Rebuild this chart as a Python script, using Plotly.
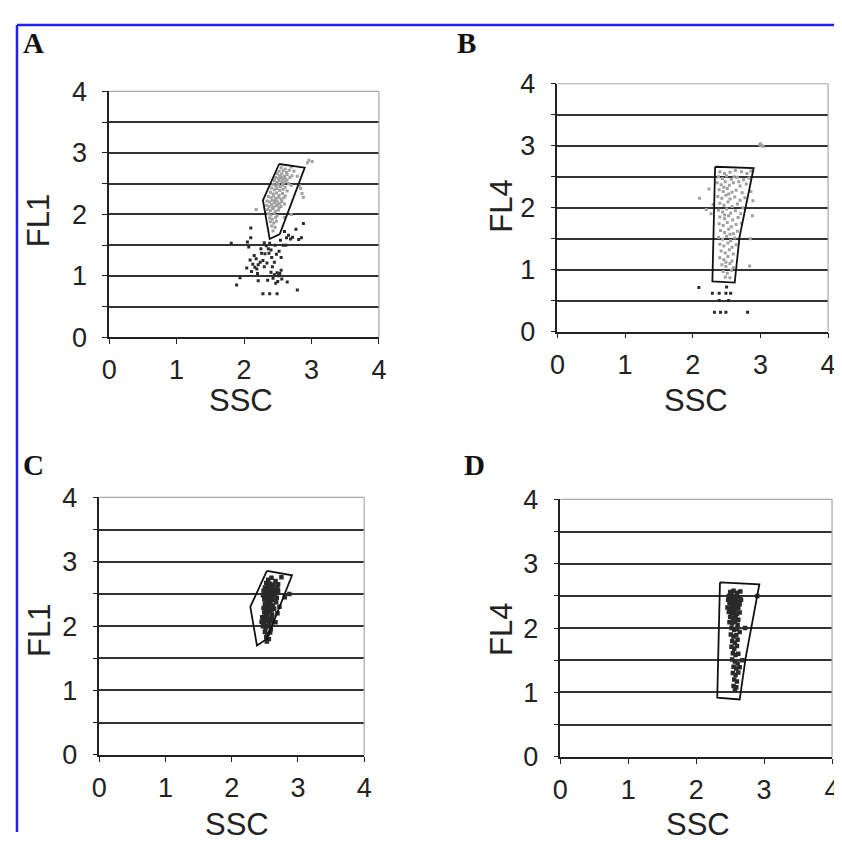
import plotly.graph_objects as go

# The page body keeps its default 8 px margin, so the figure is sized to fill the rest of the window.
OFF = 8
W, H = 842 - OFF, 855 - 2 * OFF

# ---------------- data ----------------
tick_vals = [0, 1, 2, 3, 4]
tick_text = ["0", "1", "2", "3", "4"]
minor_vals = [0.5, 1.5, 2.5, 3.5]
panel_letters = ["A", "B", "C", "D"]
x_titles = ["SSC", "SSC", "SSC", "SSC"]
y_titles = ["FL1", "FL4", "FL1", "FL4"]

# gates (SSC, FL)
gate_a = [(2.52, 2.82), (2.90, 2.76), (2.53, 1.68), (2.38, 1.60), (2.28, 2.23)]
gate_b = [(2.33, 2.66), (2.90, 2.64), (2.69, 1.52), (2.62, 0.79), (2.29, 0.81)]
gate_c = [(2.53, 2.86), (2.91, 2.79), (2.53, 1.80), (2.38, 1.70), (2.28, 2.30)]
gate_d = [(2.35, 2.71), (2.93, 2.68), (2.73, 1.55), (2.64, 0.89), (2.31, 0.92)]

a_gray = [
    (2.55, 2.76), (2.61, 2.74), (2.70, 2.77), (2.52, 2.70), (2.58, 2.71), (2.63, 2.68), (2.67, 2.72), (2.74, 2.70),
    (2.49, 2.66), (2.53, 2.63), (2.56, 2.66), (2.60, 2.62), (2.64, 2.65), (2.71, 2.63), (2.47, 2.60), (2.51, 2.58),
    (2.55, 2.60), (2.58, 2.57), (2.61, 2.59), (2.64, 2.56), (2.68, 2.60), (2.79, 2.62), (2.45, 2.55), (2.49, 2.52),
    (2.52, 2.55), (2.56, 2.53), (2.59, 2.51), (2.62, 2.54), (2.66, 2.50), (2.43, 2.49), (2.47, 2.46), (2.51, 2.48),
    (2.54, 2.45), (2.57, 2.48), (2.61, 2.44), (2.70, 2.47), (2.41, 2.43), (2.45, 2.40), (2.49, 2.42), (2.53, 2.39),
    (2.58, 2.41), (2.64, 2.38), (2.39, 2.36), (2.43, 2.33), (2.48, 2.35), (2.52, 2.31), (2.57, 2.34), (2.61, 2.30),
    (2.36, 2.29), (2.40, 2.27), (2.44, 2.30), (2.47, 2.26), (2.51, 2.28), (2.55, 2.25), (2.59, 2.27), (2.34, 2.22),
    (2.38, 2.20), (2.42, 2.23), (2.45, 2.19), (2.49, 2.22), (2.53, 2.18), (2.56, 2.21), (2.60, 2.17), (2.33, 2.15),
    (2.37, 2.13), (2.41, 2.16), (2.44, 2.12), (2.48, 2.14), (2.52, 2.11), (2.55, 2.13), (2.35, 2.08), (2.39, 2.06),
    (2.43, 2.09), (2.47, 2.05), (2.51, 2.07), (2.36, 2.01), (2.40, 1.99), (2.45, 2.02), (2.49, 1.98), (2.38, 1.94),
    (2.42, 1.92), (2.47, 1.95), (2.39, 1.88), (2.44, 1.86), (2.48, 1.89), (2.41, 1.81), (2.46, 1.79), (2.43, 1.73),
    (2.54, 2.62), (2.50, 2.50), (2.57, 2.58), (2.46, 2.21), (2.50, 2.16), (2.42, 2.11),
    (2.84, 2.42), (2.86, 2.34), (2.88, 2.28), (2.82, 2.47), (2.96, 2.88), (3.01, 2.86), (2.94, 2.84),
    (2.18, 2.08), (2.60, 1.95), (2.70, 2.00),
]
a_dark = [
    (1.81, 1.53), (1.89, 0.85), (1.94, 0.97), (2.05, 1.55), (2.07, 1.47), (2.10, 1.62), (2.10, 1.78), (2.04, 1.13),
    (2.09, 1.26), (2.11, 1.07), (2.13, 1.19), (2.15, 1.33), (2.16, 1.14), (2.19, 1.11), (2.21, 1.18), (2.20, 1.04),
    (2.21, 0.92), (2.25, 1.44), (2.26, 1.37), (2.28, 1.25), (2.30, 1.54), (2.31, 1.36), (2.33, 1.49), (2.34, 1.21),
    (2.35, 0.93), (2.36, 1.44), (2.37, 1.37), (2.38, 1.53), (2.40, 1.42), (2.41, 1.30), (2.42, 1.15), (2.43, 0.96),
    (2.45, 1.22), (2.45, 1.02), (2.46, 1.50), (2.47, 0.88), (2.48, 1.35), (2.49, 1.05), (2.50, 0.91), (2.51, 1.00),
    (2.52, 1.40), (2.53, 1.04), (2.54, 1.58), (2.55, 1.30), (2.55, 1.09), (2.56, 0.95), (2.58, 1.50), (2.60, 1.72),
    (2.62, 1.50), (2.63, 1.62), (2.64, 0.90), (2.66, 1.66), (2.69, 1.60), (2.72, 1.63), (2.77, 1.76), (2.81, 1.59),
    (2.85, 1.62), (2.88, 1.85), (2.28, 0.71), (2.38, 0.71), (2.49, 0.71), (2.79, 0.77), (2.30, 1.15), (2.18, 1.28),
    (2.24, 1.22), (2.40, 1.06),
]

b_gray = [
    (2.40, 2.58), (2.47, 2.55), (2.55, 2.57), (2.63, 2.60), (2.72, 2.58), (2.80, 2.55), (2.86, 2.59),
    (2.38, 2.50), (2.44, 2.47), (2.50, 2.51), (2.57, 2.46), (2.66, 2.49), (2.75, 2.45), (2.83, 2.48),
    (2.36, 2.40), (2.42, 2.37), (2.48, 2.42), (2.54, 2.36), (2.60, 2.40), (2.70, 2.35), (2.79, 2.38),
    (2.39, 2.29), (2.45, 2.26), (2.51, 2.31), (2.58, 2.25), (2.64, 2.28), (2.73, 2.24),
    (2.37, 2.18), (2.43, 2.15), (2.49, 2.20), (2.55, 2.14), (2.62, 2.17), (2.70, 2.12), (2.77, 2.16),
    (2.40, 2.07), (2.46, 2.04), (2.52, 2.09), (2.58, 2.02), (2.66, 2.06), (2.74, 2.00),
    (2.38, 1.96), (2.44, 1.93), (2.50, 1.98), (2.56, 1.91), (2.63, 1.95), (2.71, 1.90),
    (2.40, 1.85), (2.47, 1.82), (2.53, 1.87), (2.59, 1.80), (2.67, 1.84),
    (2.39, 1.74), (2.45, 1.71), (2.51, 1.76), (2.57, 1.69), (2.64, 1.73),
    (2.41, 1.63), (2.47, 1.60), (2.53, 1.65), (2.60, 1.58), (2.66, 1.62),
    (2.38, 1.52), (2.44, 1.49), (2.50, 1.54), (2.56, 1.47), (2.62, 1.51),
    (2.40, 1.41), (2.46, 1.38), (2.52, 1.43), (2.58, 1.36), (2.64, 1.40),
    (2.42, 1.30), (2.48, 1.27), (2.54, 1.32), (2.60, 1.25),
    (2.40, 1.19), (2.46, 1.16), (2.52, 1.21), (2.58, 1.14),
    (2.43, 1.08), (2.49, 1.05), (2.55, 1.10), (2.60, 1.03),
    (2.45, 0.97), (2.51, 0.94), (2.57, 0.99), (2.48, 0.88), (2.55, 0.87),
    (2.46, 2.33), (2.53, 2.22), (2.47, 1.88), (2.55, 1.57), (2.49, 1.12), (2.61, 2.50), (2.68, 2.42),
    (2.10, 2.15), (2.24, 2.30), (2.20, 1.97), (2.27, 1.90), (2.30, 2.05), (2.86, 2.26), (2.89, 2.11),
    (2.88, 1.87), (2.85, 1.50), (2.84, 1.06), (2.72, 1.75),
    (2.99, 3.01), (3.02, 3.00), (3.00, 3.03), (3.04, 2.99),
]
b_dark = [
    (2.09, 0.71), (2.29, 0.62), (2.39, 0.62), (2.49, 0.62), (2.56, 0.62), (2.39, 0.50), (2.53, 0.50),
    (2.32, 0.31), (2.41, 0.31), (2.49, 0.31), (2.81, 0.31), (2.50, 0.72),
]

c_dark = [
    (2.55, 2.72), (2.60, 2.75), (2.66, 2.70), (2.75, 2.76), (2.52, 2.67), (2.58, 2.66), (2.63, 2.64), (2.70, 2.65),
    (2.50, 2.60), (2.54, 2.62), (2.57, 2.58), (2.61, 2.60), (2.65, 2.57), (2.69, 2.61), (2.48, 2.55), (2.52, 2.53),
    (2.55, 2.56), (2.58, 2.52), (2.62, 2.54), (2.66, 2.51), (2.70, 2.55), (2.47, 2.48), (2.51, 2.50), (2.54, 2.46),
    (2.57, 2.49), (2.60, 2.45), (2.64, 2.48), (2.68, 2.44), (2.49, 2.42), (2.53, 2.40), (2.56, 2.43), (2.59, 2.39),
    (2.63, 2.41), (2.67, 2.37), (2.50, 2.35), (2.54, 2.33), (2.58, 2.36), (2.62, 2.32), (2.48, 2.28), (2.52, 2.26),
    (2.56, 2.29), (2.60, 2.25), (2.64, 2.27), (2.49, 2.21), (2.53, 2.19), (2.57, 2.22), (2.61, 2.18), (2.46, 2.14),
    (2.50, 2.12), (2.54, 2.15), (2.58, 2.11), (2.62, 2.08), (2.66, 2.06), (2.45, 2.07), (2.49, 2.05), (2.53, 2.08),
    (2.57, 2.03), (2.47, 2.00), (2.51, 1.97), (2.55, 2.00), (2.59, 1.95), (2.50, 1.91), (2.54, 1.88), (2.58, 1.90),
    (2.52, 1.83), (2.56, 1.80), (2.53, 1.76), (2.55, 2.52), (2.59, 2.47), (2.56, 2.50), (2.61, 2.51), (2.53, 2.44),
    (2.57, 2.55), (2.60, 2.57), (2.64, 2.53), (2.58, 2.43), (2.55, 2.38), (2.51, 2.31), (2.59, 2.31), (2.55, 2.24),
    (2.52, 2.17), (2.56, 2.07), (2.61, 2.14), (2.48, 2.10), (2.87, 2.50), (2.80, 2.45), (2.72, 2.30), (2.69, 2.20),
]

d_dark = [
    (2.50, 2.56), (2.55, 2.58), (2.60, 2.55), (2.65, 2.57), (2.48, 2.50), (2.52, 2.52), (2.56, 2.49), (2.60, 2.51),
    (2.64, 2.48), (2.47, 2.44), (2.51, 2.46), (2.54, 2.42), (2.58, 2.45), (2.62, 2.41), (2.66, 2.44), (2.49, 2.38),
    (2.53, 2.36), (2.56, 2.39), (2.60, 2.35), (2.64, 2.37), (2.46, 2.32), (2.50, 2.30), (2.54, 2.33), (2.58, 2.29),
    (2.62, 2.31), (2.48, 2.25), (2.52, 2.23), (2.56, 2.26), (2.60, 2.22), (2.64, 2.24), (2.50, 2.17), (2.54, 2.15),
    (2.58, 2.18), (2.62, 2.13), (2.49, 2.09), (2.53, 2.07), (2.57, 2.10), (2.61, 2.05), (2.52, 2.00), (2.56, 1.97),
    (2.60, 1.99), (2.64, 1.94), (2.51, 1.90), (2.55, 1.87), (2.59, 1.89), (2.53, 1.80), (2.57, 1.77), (2.61, 1.82),
    (2.52, 1.71), (2.56, 1.68), (2.60, 1.72), (2.54, 1.61), (2.58, 1.58), (2.62, 1.60), (2.53, 1.51), (2.57, 1.48),
    (2.61, 1.45), (2.55, 1.40), (2.59, 1.37), (2.64, 1.39), (2.54, 1.30), (2.58, 1.27), (2.62, 1.31), (2.56, 1.20),
    (2.60, 1.17), (2.55, 1.10), (2.59, 1.08), (2.57, 1.03), (2.55, 2.40), (2.57, 2.34), (2.53, 2.28), (2.59, 2.42),
    (2.55, 2.47), (2.51, 2.40), (2.57, 2.20), (2.55, 2.12), (2.90, 2.50), (2.72, 2.00), (2.68, 1.50),
]

# ---------------- layout helpers: window pixels -> paper fractions ----------------
def px(x):
    return (x - OFF) / W

def py(y):
    return 1 - (y - OFF) / H

# plot-area boxes in window pixels: left, right, top, bottom
boxes = [(103, 378, 79, 334), (560, 836, 71, 328), (93, 363, 500, 767), (563, 840, 502, 769)]
letter_pos = [(26, 29), (467, 29), (26, 466), (475, 466)]      # glyph centres
xtitle_pos = [(237, 400), (701, 399), (233, 839), (703, 839)]
ytitle_pos = [(31, 213), (503, 198), (32, 638), (503, 637)]

panels = [
    (gate_a, a_gray, a_dark),
    (gate_b, b_gray, b_dark),
    (gate_c, [], c_dark),
    (gate_d, [], d_dark),
]

GRAY = "#a0a0a0"
DARK = "#2a2a2a"
GRID = "#333333"
FONT = "Liberation Sans, Arial, sans-serif"

fig = go.Figure()
layout = dict(
    width=W, height=H, margin=dict(l=0, r=0, t=0, b=0),
    paper_bgcolor="white", plot_bgcolor="white", showlegend=False,
    shapes=[], annotations=[],
)

for i, (gate, gray_pts, dark_pts) in enumerate(panels):
    n = "" if i == 0 else str(i + 1)
    xa, ya = "x" + n, "y" + n
    l, r, t, b = boxes[i]
    axis_common = dict(
        range=[0, 4], tickvals=tick_vals, ticktext=tick_text, ticks="outside", ticklen=5,
        tickcolor="#222", tickwidth=1.3, showline=True, linecolor="#222", linewidth=1.5,
        zeroline=False, tickfont=dict(family=FONT, size=27, color="#222"), fixedrange=True,
    )
    layout["xaxis" + n] = dict(axis_common, domain=[px(l), px(r)], anchor=ya, showgrid=False,
                               ticklabelstandoff=3)
    layout["yaxis" + n] = dict(axis_common, domain=[py(b), py(t)], anchor=xa, showgrid=True,
                               gridcolor=GRID, gridwidth=1.5, ticklabelstandoff=10,
                               minor=dict(tickvals=minor_vals, ticks="outside", ticklen=5,
                                          tickcolor="#222", showgrid=True, gridcolor=GRID, gridwidth=1.5))
    # light frame on top and right of each plot area
    layout["shapes"].append(dict(type="line", xref=xa + " domain", yref=ya + " domain",
                                 x0=0, x1=1, y0=1, y1=1, line=dict(color="#a8a8a8", width=1.2), layer="above"))
    layout["shapes"].append(dict(type="line", xref=xa + " domain", yref=ya + " domain",
                                 x0=1, x1=1, y0=0, y1=1, line=dict(color="#a8a8a8", width=1.2), layer="above"))

    if gray_pts:
        fig.add_trace(go.Scatter(x=[p[0] for p in gray_pts], y=[p[1] for p in gray_pts], mode="markers",
                                 marker=dict(symbol="square", size=3, color=GRAY), xaxis=xa, yaxis=ya,
                                 hoverinfo="skip"))
    fig.add_trace(go.Scatter(x=[p[0] for p in dark_pts], y=[p[1] for p in dark_pts], mode="markers",
                             marker=dict(symbol="square", size=4.5 if i >= 2 else 3, color=DARK),
                             xaxis=xa, yaxis=ya, hoverinfo="skip"))
    gx = [p[0] for p in gate] + [gate[0][0]]
    gy = [p[1] for p in gate] + [gate[0][1]]
    fig.add_trace(go.Scatter(x=gx, y=gy, mode="lines", line=dict(color="#111", width=1.8),
                             xaxis=xa, yaxis=ya, hoverinfo="skip"))

    lx, ly = letter_pos[i]
    layout["annotations"].append(dict(text="<b>%s</b>" % panel_letters[i], xref="paper", yref="paper",
                                      x=px(lx), y=py(ly), xanchor="center", yanchor="middle", showarrow=False,
                                      font=dict(family="Liberation Serif, Times New Roman, serif", size=29,
                                                color="#111")))
    tx, ty = xtitle_pos[i]
    layout["annotations"].append(dict(text=x_titles[i], xref="paper", yref="paper", x=px(tx), y=py(ty),
                                      xanchor="center", yanchor="middle", showarrow=False,
                                      font=dict(family=FONT, size=31, color="#222")))
    tx, ty = ytitle_pos[i]
    layout["annotations"].append(dict(text=y_titles[i], xref="paper", yref="paper", x=px(tx), y=py(ty),
                                      xanchor="center", yanchor="middle", showarrow=False, textangle=-90,
                                      font=dict(family=FONT, size=31, color="#222")))

# blue frame (top and left)
layout["shapes"].append(dict(type="line", xref="paper", yref="paper", x0=px(9), x1=1, y0=py(10), y1=py(10),
                             line=dict(color="#1f1fff", width=2.5)))
layout["shapes"].append(dict(type="line", xref="paper", yref="paper", x0=px(9), x1=px(9), y0=0, y1=py(10),
                             line=dict(color="#1f1fff", width=2.5)))

fig.update_layout(**layout)
fig.write_html("out.html", config={"displayModeBar": False})
